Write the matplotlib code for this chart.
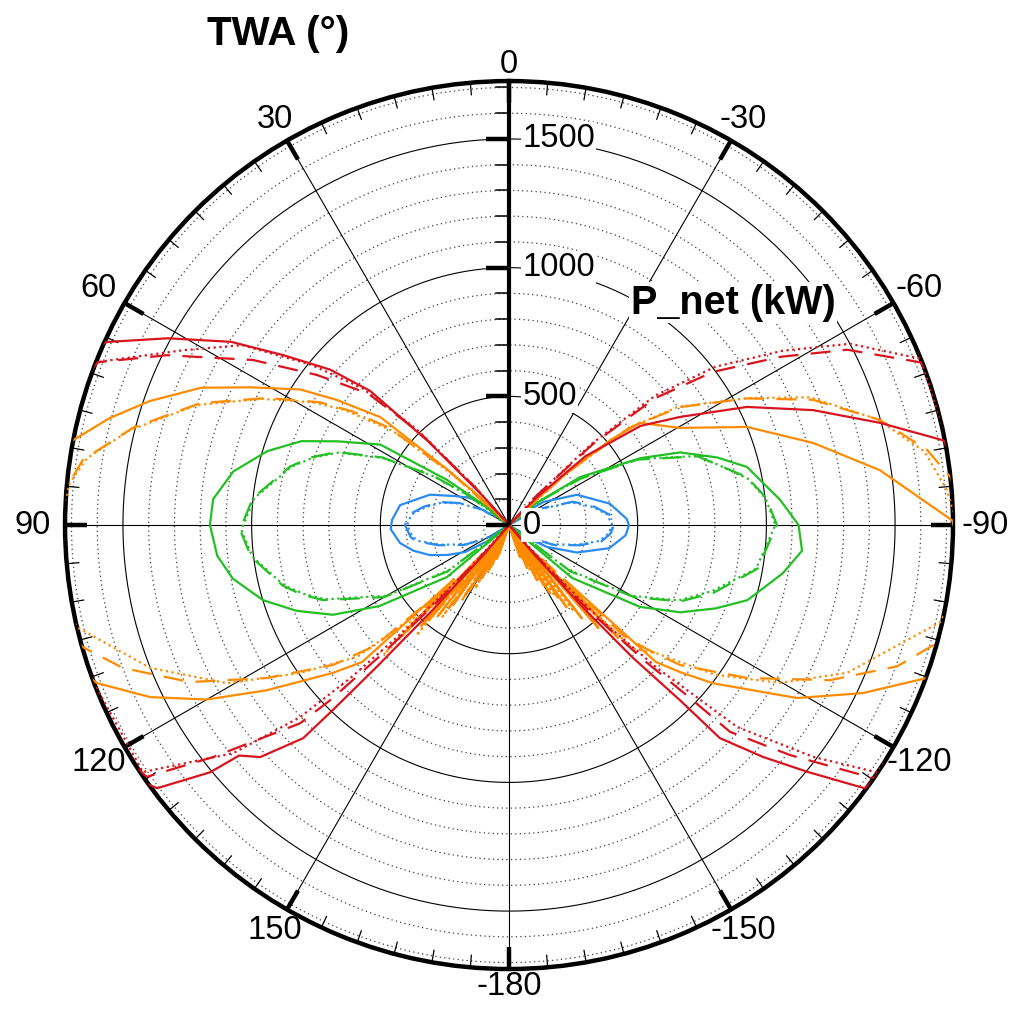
import matplotlib as mpl

mpl.use("Agg")

import numpy as np
import matplotlib.pyplot as plt

plt.rcParams["font.family"] = ["Liberation Sans", "DejaVu Sans"]

# ---------------------------------------------------------------- data
# net power (kW) against true wind angle (deg); 4 cases x 3 variants
twa_blue_solid = [-180, -135, -128, -120, -112, -103, -95, -90, -87, -78, -66, -56,
                  -50, -45, 0,
                  45, 50, 52, 56, 61.8, 69, 79.6, 87.5, 92, 99.4, 105, 110.8, 116,
                  121.5, 128, 135, 180]
p_blue_solid = [0, 0, 70, 170, 285, 400, 455, 466, 458, 400, 289, 160,
                60, 0, 0,
                0, 80, 144, 190, 238, 329, 430, 455, 460, 429, 385, 329, 265,
                201, 94, 0, 0]

twa_blue_dash = [-180, -128, -122, -114, -106, -100, -95, -90, -84, -78, -70, -60,
                 -52, 0,
                 52, 60, 66, 71.6, 78, 84, 90, 97, 100, 106, 114, 122, 128, 180]
p_blue_dash = [0, 0, 90, 190, 285, 365, 395, 408, 392, 340, 265, 120,
               0, 0,
               0, 120, 210, 283, 340, 390, 404, 385, 365, 285, 190, 90, 0, 0]

twa_blue_dot = [-180, -128, -122, -114, -106, -100, -95, -90, -84, -78, -70, -60,
                -52, 0,
                52, 60, 66, 71.6, 78, 84, 90, 97, 100, 106, 114, 122, 128, 180]
p_blue_dot = [0, 0, 85, 185, 278, 356, 388, 400, 385, 335, 258, 115,
              0, 0,
              0, 115, 205, 276, 333, 382, 396, 378, 356, 278, 185, 85, 0, 0]

twa_green_solid = [-180, -136, -130, -122, -117, -112, -107.5, -100, -95, -90, -84.7,
                   -76.3, -72, -67, -63, -56, -51, -48, 0,
                   48, 52, 54, 58, 64, 68, 73, 79, 85, 90, 96, 101, 107, 112, 117,
                   122, 130, 136, 180]
p_green_solid = [0, 0, 320, 600, 747, 865, 971, 1080, 1143, 1125, 1058,
                 952, 850, 722, 572, 333, 130, 0, 0,
                 0, 150, 300, 590, 742, 870, 982, 1091, 1154, 1162, 1140, 1093, 999,
                 890, 768, 594, 314, 0, 0]

twa_green_dash = [-180, -133, -127, -120, -114, -108.4, -100, -90, -84, -78.6, -70,
                  -63, -57, -52, -49, 0,
                  50, 54, 57, 62, 67, 71, 75, 84, 91, 97, 105, 108.5, 112, 120, 127,
                  133, 180]
p_green_dash = [0, 0, 300, 560, 729, 836, 980, 1041, 1005, 943, 780,
                560, 330, 150, 0, 0,
                0, 200, 350, 560, 726, 810, 880, 1001, 1045, 1010, 910, 850, 779,
                560, 300, 0, 0]

twa_green_dot = [-180, -133, -127, -120, -114, -108, -100, -90, -84, -79, -70, -63,
                 -57, -52, -49, 0,
                 50, 54, 57, 62, 67, 71, 75, 84, 91, 97, 105, 108.5, 112, 120, 127,
                 133, 180]
p_green_dot = [0, 0, 290, 550, 720, 830, 975, 1035, 1002, 945, 785, 565,
               335, 160, 0, 0,
               0, 190, 345, 555, 720, 805, 875, 995, 1040, 1005, 905, 842, 770, 550,
               290, 0, 0]

twa_orange_solid = [-180, -163, -161, -159, -157, -155, -153, -151, -149, -147, -145,
                    -143.5, -142, -140.5, -139, -137.5, -136, -134.5, -133, -130.7,
                    -127.8, -121, -115.4, -110.1, -100, -89.4, -81.6, -74.9, -67.6,
                    -60.4, -52, -50, -48, -46, -44, 0,
                    44, 46, 48, 50, 54, 57, 62, 66, 71, 75, 79, 85, 95, 105, 111,
                    115.6, 120, 124.3, 130, 133, 134.5, 136, 137.5, 139, 140.5, 142,
                    143.5, 145, 147, 149, 151, 153, 155, 157, 159, 161, 163, 180]
p_orange_solid = [0, 0, 130, 0, 180, 0, 240, 0, 310, 30, 390,
                  0, 460, 60, 530, 150, 610, 300, 780, 876,
                  1003, 1305, 1522, 1729, 1850, 1722, 1457, 1224, 1000,
                  764, 645, 513, 300, 100, 0, 0,
                  0, 150, 322, 652, 827, 967, 1140, 1311, 1478, 1606, 1726, 1850,
                  1900, 1850, 1714, 1547, 1356, 1139, 894, 780, 300, 600, 150, 520,
                  60, 450, 0, 380, 30, 300, 0, 230, 0, 170, 0, 120, 0, 0]

twa_orange_dash = [-180, -160, -158, -156, -154, -152, -150, -148, -146, -144, -142,
                   -140, -138, -136, -134, -132, -129.3, -122.7, -115.8, -110,
                   -105.4, -95, -83.8, -79.8, -74.2, -67.6, -62, -55.4, -51, -48,
                   -45, 0,
                   45, 48, 51, 54, 57, 62.3, 68.5, 75.5, 81.3, 83.7, 90, 100, 106,
                   110.3, 116.2, 122.3, 128.5, 132, 134, 136, 138, 140, 142, 144,
                   146, 148, 150, 152, 154, 156, 158, 160, 162, 180]
p_orange_dash = [0, 0, 140, 0, 200, 0, 270, 0, 340, 20, 420,
                 80, 500, 170, 620, 720, 859, 1100, 1385, 1605,
                 1725, 1850, 1725, 1650, 1499, 1277, 1048, 807, 600, 300,
                 0, 0,
                 0, 300, 600, 750, 876, 1062, 1291, 1509, 1675, 1705, 1900, 1850,
                 1722, 1600, 1382, 1112, 873, 700, 400, 600, 150, 480, 40, 400,
                 0, 330, 0, 260, 0, 190, 0, 140, 0, 0]

twa_orange_dot = [-180, -161, -159, -157, -155, -153, -151, -149, -147, -145, -143,
                  -141, -139, -137, -135, -131, -126, -120.2, -113.6, -102.7, -95,
                  -85.4, -80, -74, -67, -62, -55, -51, -48, -45, 0,
                  45, 48, 51, 55, 58, 63, 69, 76, 81, 84.5, 95, 103.3, 111.7,
                  119.3, 125.3, 131, 134, 136, 138, 140, 142, 144, 146, 148, 150,
                  152, 154, 156, 158, 160, 162, 180]
p_orange_dot = [0, 0, 120, 0, 190, 0, 250, 10, 330, 60, 420,
                120, 520, 220, 680, 760, 990, 1219, 1434, 1717, 1800,
                1706, 1640, 1490, 1270, 1050, 800, 600, 300, 0, 0,
                0, 280, 580, 780, 900, 1080, 1300, 1520, 1660, 1714, 1800, 1725,
                1501, 1256, 995, 780, 500, 700, 200, 560, 100, 440, 20, 350, 0,
                280, 0, 200, 0, 130, 0, 0]

twa_red_solid = [-180, -141, -139.5, -138, -137, -135.7, -135.3, -132.4, -129.6,
                 -126.5, -110, -90, -79, -74.6, -69.3, -63.6, -57.7, -53, -48, -45,
                 -43, 0,
                 40, 42, 44, 46, 49, 53, 56.6, 61.3, 65.6, 75, 90, 110, 120, 126.8,
                 129.6, 130.5, 133, 136, 136.4, 137, 138, 139.5, 141, 180]
p_red_solid = [0, 0, 150, 450, 700, 952, 1165, 1336, 1504,
               1720, 1900, 1850, 1721, 1495, 1263, 1032, 786, 640, 400, 150,
               0, 0,
               0, 150, 450, 750, 920, 1096, 1293, 1511, 1721, 1900, 2000, 1950,
               1850, 1707, 1507, 1379, 1322, 1151, 992, 750, 450, 150, 0, 0]

twa_red_dash = [-180, -140, -138.5, -137, -135, -133.7, -133.1, -129.3, -124.8, -110,
                -80, -68.4, -62.6, -58.2, -53.1, -49, -46, -43, -41, 0,
                40, 42, 44, 47, 52, 57.2, 63.6, 68.4, 80, 110, 124.8, 128.1, 133.5,
                134.4, 135.5, 137, 139, 140, 180]
p_red_dash = [0, 0, 150, 450, 750, 973, 1176, 1411, 1723, 1900,
              1900, 1718, 1480, 1240, 991, 750, 450, 150, 0, 0,
              0, 200, 500, 750, 947, 1184, 1484, 1718, 1900, 1900, 1714, 1461, 1119,
              973, 700, 400, 100, 0, 0]

twa_red_dot = [-180, -139, -137.5, -136, -134, -131.5, -127.3, -123.9, -100, -68,
               -62, -57.5, -52.5, -48.5, -45.5, -43, -41, 0,
               40, 42, 44, 47, 51, 56, 61.8, 67, 68.5, 90, 124, 129.6, 132.6, 134,
               135.5, 137.5, 139, 180]
p_red_dot = [0, 0, 200, 500, 800, 1185, 1487, 1723, 1950, 1725,
             1500, 1260, 1010, 760, 450, 150, 0, 0,
             0, 220, 520, 780, 990, 1250, 1437, 1650, 1725, 1950, 1716, 1391, 1103,
             850, 550, 250, 0, 0]

angle_labels = ["0", "30", "60", "90", "120", "150", "-180", "-150", "-120", "-90",
                "-60", "-30"]
r_labels = [0, 500, 1000, 1500]
r_max = 1725

# ---------------------------------------------------------------- figure
fig = plt.figure(figsize=(10.21, 10.09), dpi=100)
rect = [0.0637, 0.0396, 0.8697, 0.8801]
ax = fig.add_axes(rect, projection="polar")
ax.set_theta_zero_location("N")
ax.set_theta_direction(1)
ax.set_ylim(0, r_max)
ax.set_xticks([])
ax.set_yticks([])
ax.grid(False)
ax.spines["polar"].set_linewidth(3.2)

full = np.linspace(0, 2 * np.pi, 721)
for r in range(100, r_max, 100):
    if r % 500 == 0:
        ax.plot(full, np.full_like(full, r), color="black", lw=0.8, zorder=1)
    else:
        ax.plot(full, np.full_like(full, r), color="0.25", lw=0.9,
                ls=(0, (1, 2.6)), zorder=1)

for a in range(0, 360, 30):
    t = np.deg2rad(a)
    ax.plot([t, t], [0, r_max], color="black", lw=0.8, zorder=1)
    ax.plot([t, t], [r_max - 85, r_max], color="black", lw=3.2, zorder=2,
            solid_capstyle="butt")
for a in range(0, 360, 5):
    if a % 30:
        t = np.deg2rad(a)
        ax.plot([t, t], [r_max - 47, r_max], color="black", lw=0.9, zorder=2)

# radial axis
ax.plot([0, 0], [0, r_max], color="black", lw=3.0, zorder=6, solid_capstyle="butt")

colors = {"blue": "#2a8cf0", "green": "#22c022", "orange": "#ff8c00",
          "red": "#d9141e"}
styles = {"dot": (0, (1, 1.6)), "dash": (0, (9, 5.5)), "solid": "-"}
curves = [
    ("blue", "dot", twa_blue_dot, p_blue_dot),
    ("blue", "dash", twa_blue_dash, p_blue_dash),
    ("blue", "solid", twa_blue_solid, p_blue_solid),
    ("green", "dot", twa_green_dot, p_green_dot),
    ("green", "dash", twa_green_dash, p_green_dash),
    ("green", "solid", twa_green_solid, p_green_solid),
    ("orange", "dot", twa_orange_dot, p_orange_dot),
    ("orange", "dash", twa_orange_dash, p_orange_dash),
    ("orange", "solid", twa_orange_solid, p_orange_solid),
    ("red", "dot", twa_red_dot, p_red_dot),
    ("red", "dash", twa_red_dash, p_red_dash),
    ("red", "solid", twa_red_solid, p_red_solid),
]
for c, s, twa, p in curves:
    ax.plot(np.deg2rad(twa), p, color=colors[c], ls=styles[s], lw=1.6, zorder=4)

# ---------------------------------------------------------------- overlay
ov = fig.add_axes(rect)
ov.set_xlim(-r_max, r_max)
ov.set_ylim(-r_max, r_max)
ov.axis("off")

for r in range(0, r_max, 100):
    if r % 500 == 0:
        ov.plot([-88, 0], [r, r], color="black", lw=3.2, solid_capstyle="butt")
    else:
        ov.plot([-50, 0], [r, r], color="black", lw=1.1)

for r in r_labels:
    ov.text(52, r, str(r), fontsize=23.5, ha="left", va="center",
            bbox=dict(facecolor="white", edgecolor="none", pad=1.0), zorder=8)

px = r_max / 444.0
for i, lab in enumerate(angle_labels):
    t = np.deg2rad(30 * i)
    d = (461 + 15 * abs(np.sin(t))) * px
    ov.text(-d * np.sin(t), d * np.cos(t), lab, fontsize=23.5,
            ha="center", va="center")

ov.text(870, 863, "P_net (kW)", fontsize=28.5, fontweight="bold", ha="center",
        va="center", bbox=dict(facecolor="white", edgecolor="none", pad=1.0),
        zorder=8)
fig.text(278 / 1021, 1 - 34 / 1009, "TWA (°)", fontsize=29, fontweight="bold",
         ha="center", va="center")

plt.savefig("out.png", dpi=100)
plt.close()
